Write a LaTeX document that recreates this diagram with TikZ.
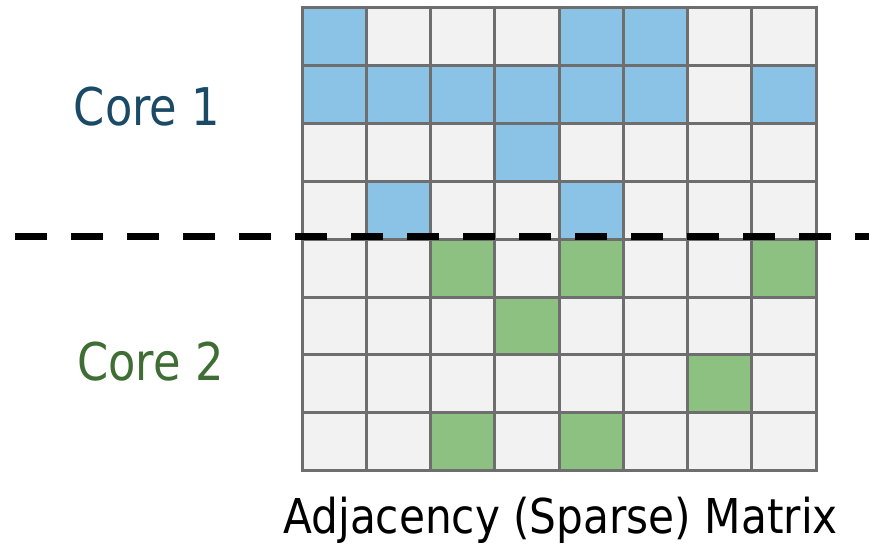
\documentclass[tikz,border=0pt]{standalone}
\usepackage{fontspec}
\setmainfont{DejaVu Sans}[FakeStretch=0.86]
\newfontfamily\capfont{DejaVu Sans}[FakeStretch=0.88]
\definecolor{cellgray}{HTML}{F2F2F2}
\definecolor{cellblue}{HTML}{8BC3E6}
\definecolor{cellgreen}{HTML}{8DC182}
\definecolor{gridc}{HTML}{6E6E6E}
\definecolor{coreblue}{HTML}{1B4A66}
\definecolor{coregreen}{HTML}{3E6E34}
\tikzset{
  gridline/.style={draw=gridc, line width=3},
  corelabel/.style={anchor=base, inner sep=0, font=\fontsize{52}{60}\selectfont},
  caption/.style={anchor=base, inner sep=0, font=\capfont\fontsize{48}{56}\selectfont},
  divider/.style={line width=7, dash pattern=on 32 off 24, black},
}
\begin{document}
\begin{tikzpicture}[x=1pt,y=-1pt]
\useasboundingbox (0,0) rectangle (869,543);
\def\xo{302}\def\yo{7.5}\def\cw{64.25}\def\ch{57.9}
% background cells
\fill[cellgray] (\xo,\yo) rectangle ({\xo+8*\cw},{\yo+8*\ch});
% blue cells (row/col)
\foreach \r/\c in {0/0,0/4,0/5,1/0,1/1,1/2,1/3,1/4,1/5,1/7,2/3,3/1,3/4}
  \fill[cellblue] ({\xo+\c*\cw},{\yo+\r*\ch}) rectangle ({\xo+(\c+1)*\cw},{\yo+(\r+1)*\ch});
% green cells
\foreach \r/\c in {4/2,4/4,4/7,5/3,6/6,7/2,7/4}
  \fill[cellgreen] ({\xo+\c*\cw},{\yo+\r*\ch}) rectangle ({\xo+(\c+1)*\cw},{\yo+(\r+1)*\ch});
% grid lines
\foreach \i in {0,...,8} {
  \draw[gridline] ({\xo+\i*\cw},{\yo-1.5}) -- ({\xo+\i*\cw},{\yo+8*\ch+1.5});
  \draw[gridline] ({\xo-1.5},{\yo+\i*\ch}) -- ({\xo+8*\cw+1.5},{\yo+\i*\ch});
}
% divider
\coordinate (dl) at (15,236.7);
\coordinate (dr) at (869,236.7);
\draw[divider] (dl) -- (dr);
% labels
\node[corelabel, text=coreblue] (core1) at (147,125) {Core 1};
\node[corelabel, text=coregreen] (core2) at (150.5,380) {Core 2};
\node[caption] (cap) at (560.5,533) {Adjacency (Sparse) Matrix};
\end{tikzpicture}
\end{document}
